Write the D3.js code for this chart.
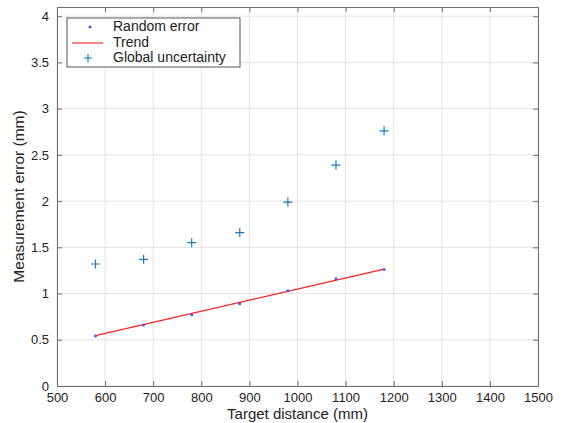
<!DOCTYPE html>
<html>
  <head>
    <meta charset="UTF-8">
    <title>Measurement error</title>
    <script src="https://d3js.org/d3.v7.min.js"></script>
    <style>
      body { margin: 0; background: #fff; }
      text { font-family: "Liberation Sans", Arial, sans-serif; fill: #222; }
    </style>
  </head>
  <body>
    <svg id="chart" width="563" height="423"></svg>
    <script>
      // Data
      const distances = [580, 680, 780, 880, 980, 1080, 1180];
      const randomError = [0.54, 0.66, 0.77, 0.89, 1.03, 1.16, 1.26];
      const globalUncertainty = [1.32, 1.37, 1.55, 1.66, 1.99, 2.39, 2.76];
      const trendX = [580, 1180];
      const trendY = [0.545, 1.265];
      const xTicks = [500, 600, 700, 800, 900, 1000, 1100, 1200, 1300, 1400, 1500];
      const yTicks = [0, 0.5, 1, 1.5, 2, 2.5, 3, 3.5, 4];
      const legendLabels = ["Random error", "Trend", "Global uncertainty"];

      const svg = d3.select("#chart");
      const margin = { left: 57, right: 25, top: 7, bottom: 37 };
      const W = 563, H = 423;

      const x = d3.scaleLinear().domain([500, 1500]).range([margin.left, W - margin.right]);
      const y = d3.scaleLinear().domain([0, 4.1]).range([H - margin.bottom, margin.top]);

      // Grid
      const grid = svg.append("g");
      grid.selectAll(".gx").data(xTicks).join("line")
        .attr("x1", d => x(d)).attr("x2", d => x(d))
        .attr("y1", y(0)).attr("y2", y(4.1))
        .attr("stroke", "#e3e3e3").attr("stroke-width", 1);
      grid.selectAll(".gy").data(yTicks).join("line")
        .attr("y1", d => y(d)).attr("y2", d => y(d))
        .attr("x1", x(500)).attr("x2", x(1500))
        .attr("stroke", "#e3e3e3").attr("stroke-width", 1);

      // Axes (ticks inward, box all around)
      const axisColor = "#6e6e6e";
      const styleAxis = g => {
        g.select(".domain").attr("stroke", axisColor);
        g.selectAll(".tick line").attr("stroke", axisColor);
        g.selectAll(".tick text").style("font-size", "13px").attr("fill", "#222");
      };
      svg.append("g").attr("transform", `translate(0,${y(0)})`)
        .call(d3.axisBottom(x).tickValues(xTicks).tickSizeInner(-5).tickSizeOuter(0).tickPadding(7).tickFormat(d3.format("d")))
        .call(styleAxis);
      svg.append("g").attr("transform", `translate(0,${y(4.1)})`)
        .call(d3.axisTop(x).tickValues(xTicks).tickSizeInner(-5).tickSizeOuter(0).tickFormat(""))
        .call(styleAxis);
      svg.append("g").attr("transform", `translate(${x(500)},0)`)
        .call(d3.axisLeft(y).tickValues(yTicks).tickSizeInner(-5).tickSizeOuter(0).tickPadding(8).tickFormat(d3.format("")))
        .call(styleAxis);
      svg.append("g").attr("transform", `translate(${x(1500)},0)`)
        .call(d3.axisRight(y).tickValues(yTicks).tickSizeInner(-5).tickSizeOuter(0).tickFormat(""))
        .call(styleAxis);

      // Axis labels
      svg.append("text").attr("x", (x(500) + x(1500)) / 2).attr("y", 419)
        .attr("text-anchor", "middle").style("font-size", "15px").text("Target distance (mm)");
      svg.append("text")
        .attr("transform", `translate(24,${(y(0) + y(4.1)) / 2}) rotate(-90)`)
        .attr("text-anchor", "middle").style("font-size", "15.5px").text("Measurement error (mm)");

      // Trend line
      const line = d3.line().x(d => x(d[0])).y(d => y(d[1]));
      svg.append("path").datum(d3.zip(trendX, trendY))
        .attr("d", line).attr("fill", "none").attr("stroke", "#ff2020").attr("stroke-width", 1.3);

      // Random error dots
      svg.append("g").selectAll("circle").data(d3.zip(distances, randomError)).join("circle")
        .attr("cx", d => x(d[0])).attr("cy", d => y(d[1])).attr("r", 1.5).attr("fill", "#5050ff");

      // Global uncertainty plus markers
      svg.append("g").selectAll("path").data(d3.zip(distances, globalUncertainty)).join("path")
        .attr("transform", d => `translate(${x(d[0])},${y(d[1])})`)
        .attr("d", "M-4.5,0H4.5M0,-4.5V4.5")
        .attr("stroke", "#1a78c2").attr("stroke-width", 1.2).attr("fill", "none");

      // Legend
      const lg = svg.append("g").attr("transform", "translate(67,18)");
      lg.append("rect").attr("width", 173).attr("height", 49)
        .attr("fill", "#fff").attr("stroke", "#555").attr("stroke-width", 1);
      const rowY = [8, 24, 39];
      lg.append("circle").attr("cx", 23).attr("cy", rowY[0] + 1).attr("r", 1.5).attr("fill", "#5050ff");
      lg.append("line").attr("x1", 5).attr("x2", 36).attr("y1", rowY[1] + 1).attr("y2", rowY[1] + 1)
        .attr("stroke", "#ff4040").attr("stroke-width", 1.3);
      lg.append("path").attr("transform", `translate(21,${rowY[2] + 1})`)
        .attr("d", "M-4,0H4M0,-4V4").attr("stroke", "#1a78c2").attr("stroke-width", 1.2);
      lg.selectAll("text").data(legendLabels).join("text")
        .attr("x", 46).attr("y", (d, i) => rowY[i] + 5)
        .style("font-size", "14px").text(d => d);
    </script>
  </body>
</html>
